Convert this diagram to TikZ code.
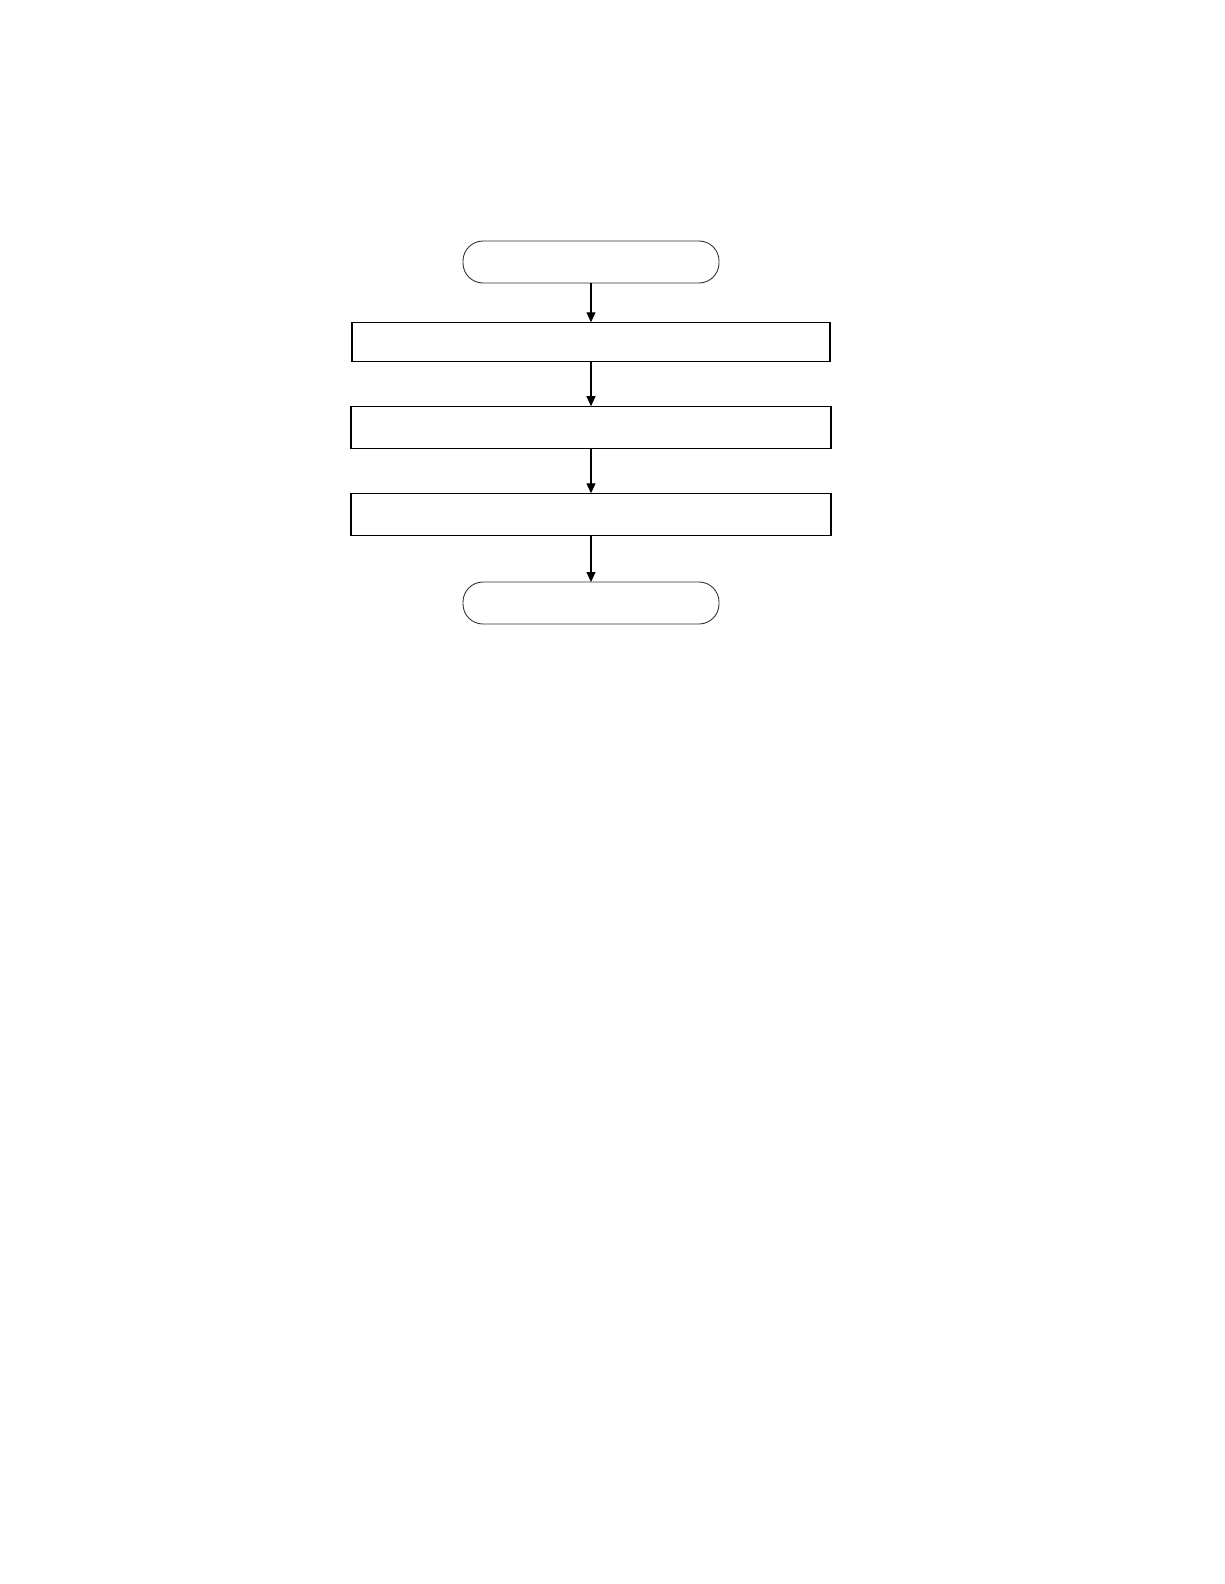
\documentclass[tikz,border=0pt]{standalone}
\usetikzlibrary{arrows.meta}
\begin{document}
\begin{tikzpicture}[x=1pt,y=-1pt,
  procbox/.style={draw=black,line width=1.3pt,minimum width=479pt,minimum height=40pt,inner sep=0pt,outer sep=0pt},
  termbox/.style={draw=black!80,line width=0.9pt,rounded corners=20pt,minimum width=256pt,minimum height=42pt,inner sep=0pt,outer sep=0pt},
  flow/.style={draw=black,line width=1.1pt,-{Triangle[width=9pt,length=10pt]}}]
\useasboundingbox[fill=white] (0,0) rectangle (1224,1584);
\node[termbox] (start) at (591,262) {};
\node[procbox,minimum width=478pt,minimum height=39pt] (b1) at (591,341.8) {};
\node[procbox,minimum width=480pt,minimum height=42pt] (b2) at (591,427.2) {};
\node[procbox,minimum width=480pt,minimum height=42pt] (b3) at (591,514.3) {};
\node[termbox] (end) at (591,603) {};
\draw[flow] (start) -- (b1);
\draw[flow] (b1) -- (b2);
\draw[flow] (b2) -- (b3);
\draw[flow] (b3) -- (end);
\end{tikzpicture}
\end{document}
